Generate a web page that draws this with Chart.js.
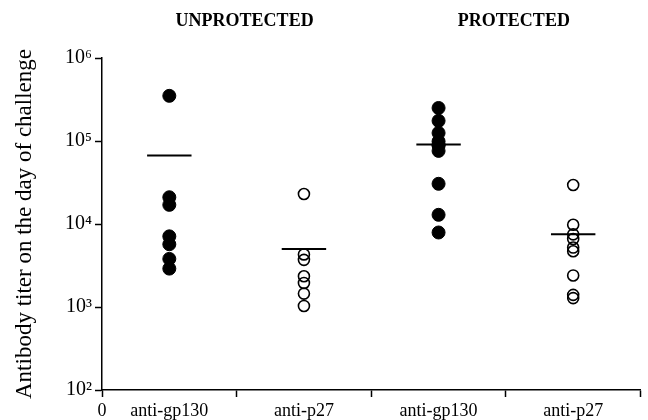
<!DOCTYPE html>
<html>
<head>
<meta charset="utf-8">
<script src="https://cdn.jsdelivr.net/npm/chart.js@4/dist/chart.umd.min.js"></script>
<style>
  html, body { margin: 0; padding: 0; background: #fff; }
  canvas { display: block; }
</style>
</head>
<body>
<canvas id="chart" width="648" height="420"></canvas>
<script>
const categories = ["anti-gp130", "anti-p27", "anti-gp130", "anti-p27"];
const groupTitles = ["UNPROTECTED", "PROTECTED"];

const unprotectedGp130 = [350000, 21000, 17000, 7100, 5700, 3800, 2900];
const unprotectedP27 = [23000, 4300, 3700, 2350, 1950, 1450, 1030];
const protectedGp130 = [250000, 175000, 125000, 99000, 89000, 89000, 76000, 30500, 12900, 7900];
const protectedP27 = [29500, 9800, 7500, 6600, 5200, 4700, 2400, 1400, 1280];
const meanTiters = [67000, 5000, 91000, 7500];

const yTicks = [1e2, 1e3, 1e4, 1e5, 1e6];
const yTickLabels = ["10²", "10³", "10⁴", "10⁵", "10⁶"];

const serif = "'Liberation Serif', 'DejaVu Serif', serif";

function pointsAt(index, values) {
  return values.map((v) => ({ x: index + 0.5, y: v }));
}

let groups = [unprotectedGp130, unprotectedP27, protectedGp130, protectedP27];

let scatterSets = groups.map((values, i) => {
  let filled = i % 2 === 0;
  return {
    type: "scatter",
    data: pointsAt(i, values),
    pointRadius: filled ? 6.5 : 5.5,
    pointBorderWidth: filled ? 1 : 1.6,
    pointBackgroundColor: filled ? "#000" : "rgba(0,0,0,0)",
    pointBorderColor: "#000",
  };
});

// short horizontal bar for each group mean
let meanSets = meanTiters.map((m, i) => ({
  type: "line",
  data: [
    { x: i + 0.5 - 0.165, y: m },
    { x: i + 0.5 + 0.165, y: m },
  ],
  borderColor: "#000",
  borderWidth: 2,
  pointRadius: 0,
  fill: false,
}));

const groupTitlePlugin = {
  id: "groupTitles",
  afterDraw(chart) {
    let ctx = chart.ctx;
    let xs = chart.scales.x;
    ctx.save();
    ctx.fillStyle = "#000";
    ctx.font = "bold 18px " + serif;
    ctx.textAlign = "center";
    ctx.textBaseline = "middle";
    groupTitles.forEach((t, i) => {
      ctx.fillText(t, xs.getPixelForValue(i * 2 + 1) + 8, 21);
    });
    ctx.restore();
  },
};

new Chart(document.getElementById("chart"), {
  data: { datasets: [...meanSets, ...scatterSets] },
  options: {
    responsive: false,
    animation: false,
    layout: { padding: { top: 58, right: 4, left: 0, bottom: 0 } },
    plugins: { legend: { display: false }, tooltip: { enabled: false } },
    scales: {
      x: {
        type: "linear",
        min: 0,
        max: 4,
        afterBuildTicks: (scale) => {
          scale.ticks = [0, 0.5, 1, 1.5, 2, 2.5, 3, 3.5, 4].map((v) => ({ value: v }));
        },
        afterFit: (scale) => {
          scale.height = 30;
        },
        border: { display: true, color: "#000", width: 1.5 },
        grid: {
          drawOnChartArea: false,
          drawTicks: true,
          tickLength: 7,
          tickWidth: 1.5,
          tickColor: (c) => (c.tick && Number.isInteger(c.tick.value) ? "#000" : "rgba(0,0,0,0)"),
        },
        ticks: {
          autoSkip: false,
          maxRotation: 0,
          padding: 3,
          color: "#000",
          font: { family: serif, size: 18 },
          callback: (v) => {
            if (v === 0) return "0";
            if (Number.isInteger(v)) return "";
            return categories[Math.floor(v)];
          },
        },
      },
      y: {
        type: "logarithmic",
        min: 1e2,
        max: 1e6,
        afterBuildTicks: (scale) => {
          scale.ticks = yTicks.map((v) => ({ value: v }));
        },
        afterFit: (scale) => {
          scale.width = 102;
        },
        border: { display: true, color: "#000", width: 1.5 },
        grid: {
          drawOnChartArea: false,
          drawTicks: true,
          tickLength: 7,
          tickWidth: 1.5,
          tickColor: "#000",
        },
        ticks: {
          padding: 3,
          color: "#000",
          font: { family: serif, size: 20 },
          callback: (v) => yTickLabels[yTicks.indexOf(v)],
        },
        title: {
          display: true,
          text: "Antibody titer on the day of challenge",
          color: "#000",
          font: { family: serif, size: 23 },
          padding: { top: 11, bottom: 0 },
        },
      },
    },
  },
  plugins: [groupTitlePlugin],
});
</script>
</body>
</html>
